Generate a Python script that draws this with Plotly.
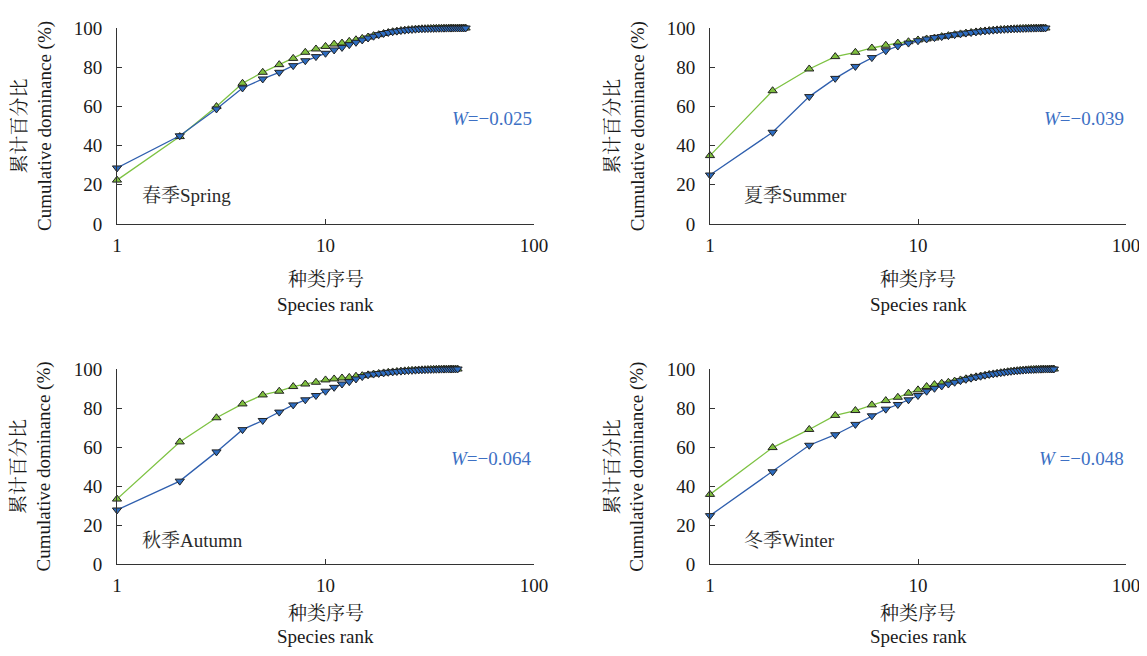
import plotly.graph_objects as go

# ---------------- data ----------------
tail_spring = [96.6, 97.2, 97.7, 98.1, 98.4, 98.7, 98.9, 99.1, 99.25, 99.4, 99.5, 99.6, 99.65, 99.7,
               99.75, 99.8, 99.83, 99.86, 99.89, 99.91, 99.93, 99.95, 99.96, 99.97, 99.98, 99.99, 99.99,
               100, 100, 100]
spring_a = [22.4, 44.6, 59.9, 71.8, 77.4, 81.3, 84.5, 87.6, 89.3, 90.6, 91.8, 92.3, 93.2, 94.0, 94.7,
            95.4, 96.1] + tail_spring
spring_b = [28.6, 45.0, 58.7, 69.4, 74.0, 77.4, 80.8, 83.3, 85.4, 87.1, 88.8, 90.1, 91.5, 92.7, 93.9,
            94.9, 95.8] + tail_spring

tail_summer = [95.6, 96.1, 96.6, 97.0, 97.4, 97.7, 98.0, 98.3, 98.5, 98.7, 98.9, 99.05, 99.2, 99.3,
               99.4, 99.5, 99.58, 99.65, 99.72, 99.78, 99.83, 99.87, 99.9, 99.93, 99.95, 99.97, 99.98,
               99.99, 100]
summer_a = [34.9, 68.0, 79.1, 85.4, 87.6, 89.8, 91.2, 92.3, 93.0, 93.9, 94.4, 94.9] + tail_summer
summer_b = [25.0, 46.8, 65.0, 74.3, 80.4, 84.9, 88.4, 90.8, 92.3, 93.5, 94.4, 95.1] + tail_summer

tail_autumn = [97.0, 97.4, 97.7, 98.0, 98.3, 98.5, 98.7, 98.9, 99.05, 99.2, 99.3, 99.4, 99.5, 99.58,
               99.65, 99.72, 99.78, 99.83, 99.87, 99.9, 99.93, 99.95, 99.96, 99.97, 99.98, 99.99, 100, 100]
autumn_a = [33.3, 62.6, 75.0, 82.1, 86.7, 88.6, 91.0, 92.3, 93.2, 94.4, 94.9, 95.4, 95.7, 96.3,
            96.6] + tail_autumn
autumn_b = [27.7, 42.5, 57.5, 68.9, 73.6, 77.9, 81.6, 84.2, 86.4, 88.6, 90.6, 92.3, 93.5, 94.9,
            96.1] + tail_autumn

tail_winter = [96.8, 97.2, 97.5, 97.8, 98.1, 98.35, 98.6, 98.8, 99.0, 99.15, 99.3, 99.42, 99.53, 99.62,
               99.7, 99.77, 99.83, 99.88, 99.92, 99.95, 99.97, 99.98, 99.99, 100, 100]
winter_a = [35.7, 59.7, 69.0, 76.2, 78.7, 81.6, 83.8, 85.5, 87.6, 89.3, 91.0, 92.0, 92.7, 93.2, 93.8,
            94.4, 95.0, 95.5, 96.0, 96.4] + tail_winter
winter_b = [24.8, 47.3, 60.9, 66.3, 71.6, 76.0, 79.4, 81.8, 84.2, 86.4, 88.6, 90.1, 91.3, 92.3, 93.2,
            94.0, 94.7, 95.3, 95.9, 96.3] + tail_winter

season_labels = ["春季Spring", "夏季Summer", "秋季Autumn", "冬季Winter"]
w_labels = ["<i>W</i>=−0.025", "<i>W</i>=−0.039", "<i>W</i>=−0.064", "<i>W</i> =−0.048"]
y_ticks = [0, 20, 40, 60, 80, 100]
x_ticks = [1, 10, 100]
y_title = "累计百分比<br>Cumulative dominance (%)"
x_title_cn = "种类序号"
x_title_en = "Species rank"

panels = [(spring_a, spring_b), (summer_a, summer_b), (autumn_a, autumn_b), (winter_a, winter_b)]

# ---------------- style ----------------
FONT = "Liberation Serif, Noto Serif CJK SC, Noto Sans CJK SC"
W, H = 1147, 640
OFF = 8  # page body margin
x_domains = [((117 - OFF) / W, (534 - OFF) / W), ((710 - OFF) / W, (1126 - OFF) / W)]
y_domains = [(1 - (224 - OFF) / H, 1 - (28 - OFF) / H), (1 - (564 - OFF) / H, 1 - (369 - OFF) / H)]
GREEN_LINE = "#7dc242"
GREEN_FILL = "#7fbf3f"
BLUE_LINE = "#2f5fae"
BLUE_FILL = "#2d6cc0"
W_COLOR = "#3d70c4"

fig = go.Figure()
layout = dict(width=W, height=H, margin=dict(l=0, r=0, t=0, b=0, pad=0), autosize=False,
              paper_bgcolor="white", plot_bgcolor="white", showlegend=False,
              font=dict(family=FONT, size=19, color="#1a1a1a"))
annotations = []

for i, (a, b) in enumerate(panels):
    n = i + 1
    sfx = "" if n == 1 else str(n)
    xa, ya = "x" + sfx, "y" + sfx
    ranks_a = list(range(1, len(a) + 1))
    ranks_b = list(range(1, len(b) + 1))
    fig.add_trace(go.Scatter(x=ranks_a, y=a, xaxis=xa, yaxis=ya, mode="lines+markers",
                             cliponaxis=False,
                             line=dict(color=GREEN_LINE, width=1.3),
                             marker=dict(symbol="triangle-up", size=8, color=GREEN_FILL,
                                         line=dict(color="#222", width=1))))
    fig.add_trace(go.Scatter(x=ranks_b, y=b, xaxis=xa, yaxis=ya, mode="lines+markers",
                             cliponaxis=False,
                             line=dict(color=BLUE_LINE, width=1.3),
                             marker=dict(symbol="triangle-down", size=8, color=BLUE_FILL,
                                         line=dict(color="#222", width=1))))
    col, row = i % 2, i // 2
    layout["xaxis" + sfx] = dict(type="log", range=[0, 2], domain=x_domains[col], anchor=ya,
                                 automargin=False,
                                 tickvals=x_ticks, ticktext=[str(v) for v in x_ticks],
                                 ticks="inside", ticklen=5, tickcolor="#333",
                                 showline=True, linecolor="#333", linewidth=1,
                                 showgrid=False, zeroline=False, ticklabelstandoff=4,
                                 tickfont=dict(family=FONT, size=19, color="#1a1a1a"))
    layout["yaxis" + sfx] = dict(range=[0, 100], domain=y_domains[row], anchor=xa,
                                 automargin=False,
                                 tickvals=y_ticks, ticks="inside", ticklen=5, tickcolor="#333",
                                 showline=True, linecolor="#333", linewidth=1,
                                 showgrid=False, zeroline=False, ticklabelstandoff=10,
                                 tickfont=dict(family=FONT, size=19, color="#1a1a1a"))
    sx = 0.055 if col == 0 else 0.077
    sy = 0.143 if row == 0 else 0.123
    annotations.append(dict(text=season_labels[i], xref=xa + " domain", yref=ya + " domain",
                            x=sx, y=sy, xanchor="left", yanchor="middle", showarrow=False,
                            font=dict(family=FONT, size=19, color="#2a2a2a")))
    annotations.append(dict(text=w_labels[i], xref=xa + " domain", yref=ya + " domain",
                            x=1.0, y=0.54, xanchor="right", yanchor="middle", showarrow=False,
                            font=dict(family=FONT, size=19, color=W_COLOR)))
    cn_y = -0.2857 if row == 0 else -0.2564
    en_y = -0.413 if row == 0 else -0.374
    annotations.append(dict(text=x_title_cn, xref=xa + " domain", yref=ya + " domain",
                            x=0.5, y=cn_y, xanchor="center", yanchor="middle", showarrow=False,
                            font=dict(family=FONT, size=19, color="#1a1a1a")))
    annotations.append(dict(text=x_title_en, xref=xa + " domain", yref=ya + " domain",
                            x=0.5, y=en_y, xanchor="center", yanchor="middle", showarrow=False,
                            font=dict(family=FONT, size=19, color="#1a1a1a")))
    annotations.append(dict(text=y_title, xref=xa + " domain", yref=ya + " domain",
                            x=-0.204, y=0.5, xanchor="center", yanchor="middle", showarrow=False,
                            textangle=-90,
                            font=dict(family=FONT, size=19, color="#1a1a1a")))

layout["annotations"] = annotations
fig.update_layout(**layout)
fig.write_html("out.html")
